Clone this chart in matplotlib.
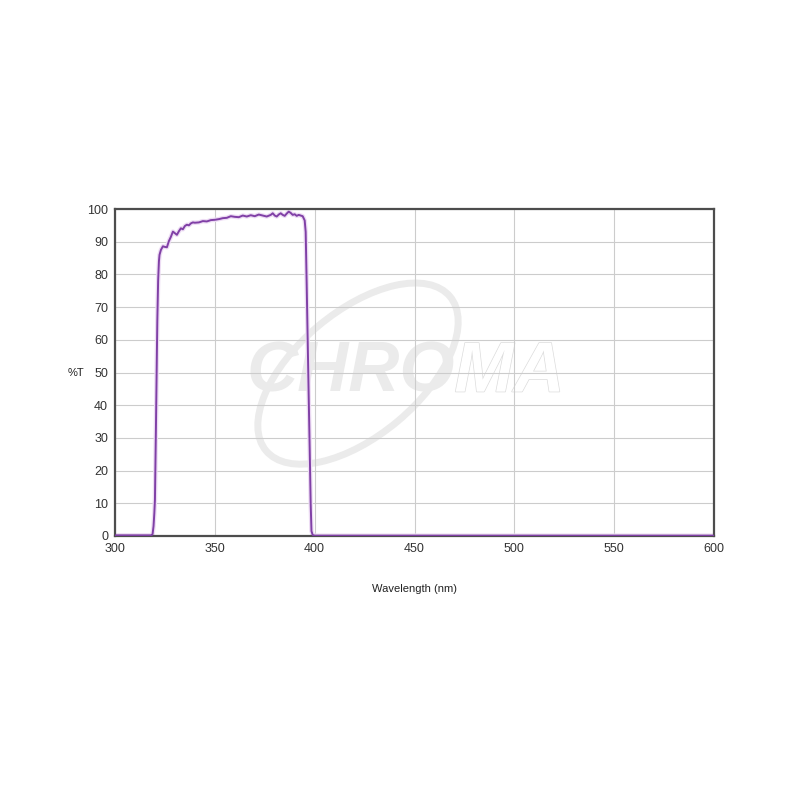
import matplotlib.pyplot as plt
from matplotlib.patches import Ellipse
import matplotlib.patheffects as pe

# transmission curve
wavelength = [300, 310, 318, 318.8, 319.3, 319.7, 320, 320.5, 321, 321.2, 321.6, 322, 322.3,
              323, 324, 325, 326, 327, 328, 329, 330, 331, 332, 333, 334, 335, 336, 337,
              338, 339, 340, 342, 344, 346, 348, 350, 352, 354, 356, 358, 360, 362, 364,
              366, 368, 370, 372, 374, 376, 378, 379, 380, 381, 382, 383, 384, 385, 386,
              387, 388, 389, 390, 391, 392, 393, 394, 395, 395.5, 396, 396.5, 397, 397.5,
              398, 398.4, 399, 400, 450, 500, 550, 600]
transmission = [0.2, 0.2, 0.2, 0.5, 3, 7, 11, 33, 57, 66, 78, 84, 86,
                87.5, 88.6, 88.4, 88.3, 90.2, 91.5, 93.1, 92.6, 92.1, 93.2, 94.1, 93.8, 94.8, 95.2, 95.0,
                95.6, 95.9, 95.8, 95.9, 96.3, 96.2, 96.6, 96.7, 96.9, 97.2, 97.3, 97.8, 97.6, 97.5, 98.0,
                97.7, 98.1, 97.8, 98.3, 98.0, 97.7, 98.2, 98.7, 98.0, 97.7, 98.3, 98.7, 98.2, 97.9, 98.6,
                99.2, 98.8, 98.2, 98.4, 97.9, 98.2, 98.0, 97.8, 96.5, 93, 77, 60, 43, 27,
                10, 1.5, 0.3, 0.1, 0.1, 0.1, 0.1, 0.1]

xticks = [300, 350, 400, 450, 500, 550, 600]
yticks = [0, 10, 20, 30, 40, 50, 60, 70, 80, 90, 100]

plt.rcParams['font.family'] = ['Liberation Sans', 'DejaVu Sans']

fig = plt.figure(figsize=(8, 8), dpi=100)
ax = fig.add_axes([0.14375, 0.33, 0.74875, 0.40875])

# watermark logo
wm = '#ebebeb'
ax.add_patch(Ellipse((0.4475, 0.533), 0.30, 0.155, angle=40, transform=fig.transFigure,
                     fill=False, edgecolor=wm, lw=5, zorder=0.1, clip_on=False))
ax.text(0.308, 0.533, 'CHRO', transform=fig.transFigure, fontsize=51, fontweight='bold',
        fontstyle='italic', color=wm, va='center', ha='left', zorder=0.2)
ax.text(0.568, 0.533, 'MA', transform=fig.transFigure, fontsize=51, fontweight='bold',
        fontstyle='italic', color='white', va='center', ha='left', zorder=0.2,
        path_effects=[pe.withStroke(linewidth=1.0, foreground='#dcdcdc')])

ax.plot(wavelength, transmission, color='#eddcf4', lw=3.2, zorder=2, solid_joinstyle='round')
ax.plot(wavelength, transmission, color='#8040a6', lw=1.4, zorder=3, solid_joinstyle='round')

ax.set_xlim(300, 600)
ax.set_ylim(0, 100)
ax.set_xticks(xticks)
ax.set_yticks(yticks)
ax.grid(True, color='#cccccc', lw=0.8)
ax.set_axisbelow(True)
for s in ax.spines.values():
    s.set_color('#4d4d4d')
    s.set_linewidth(1.6)
ax.tick_params(length=0, labelsize=9, colors='#333333', pad=5)
ax.set_xlabel('Wavelength (nm)', fontsize=8, color='#222222', labelpad=21)
ax.set_ylabel('%T', fontsize=8, color='#222222', rotation=0, labelpad=8, va='center')

fig.savefig('out.png', dpi=100)
